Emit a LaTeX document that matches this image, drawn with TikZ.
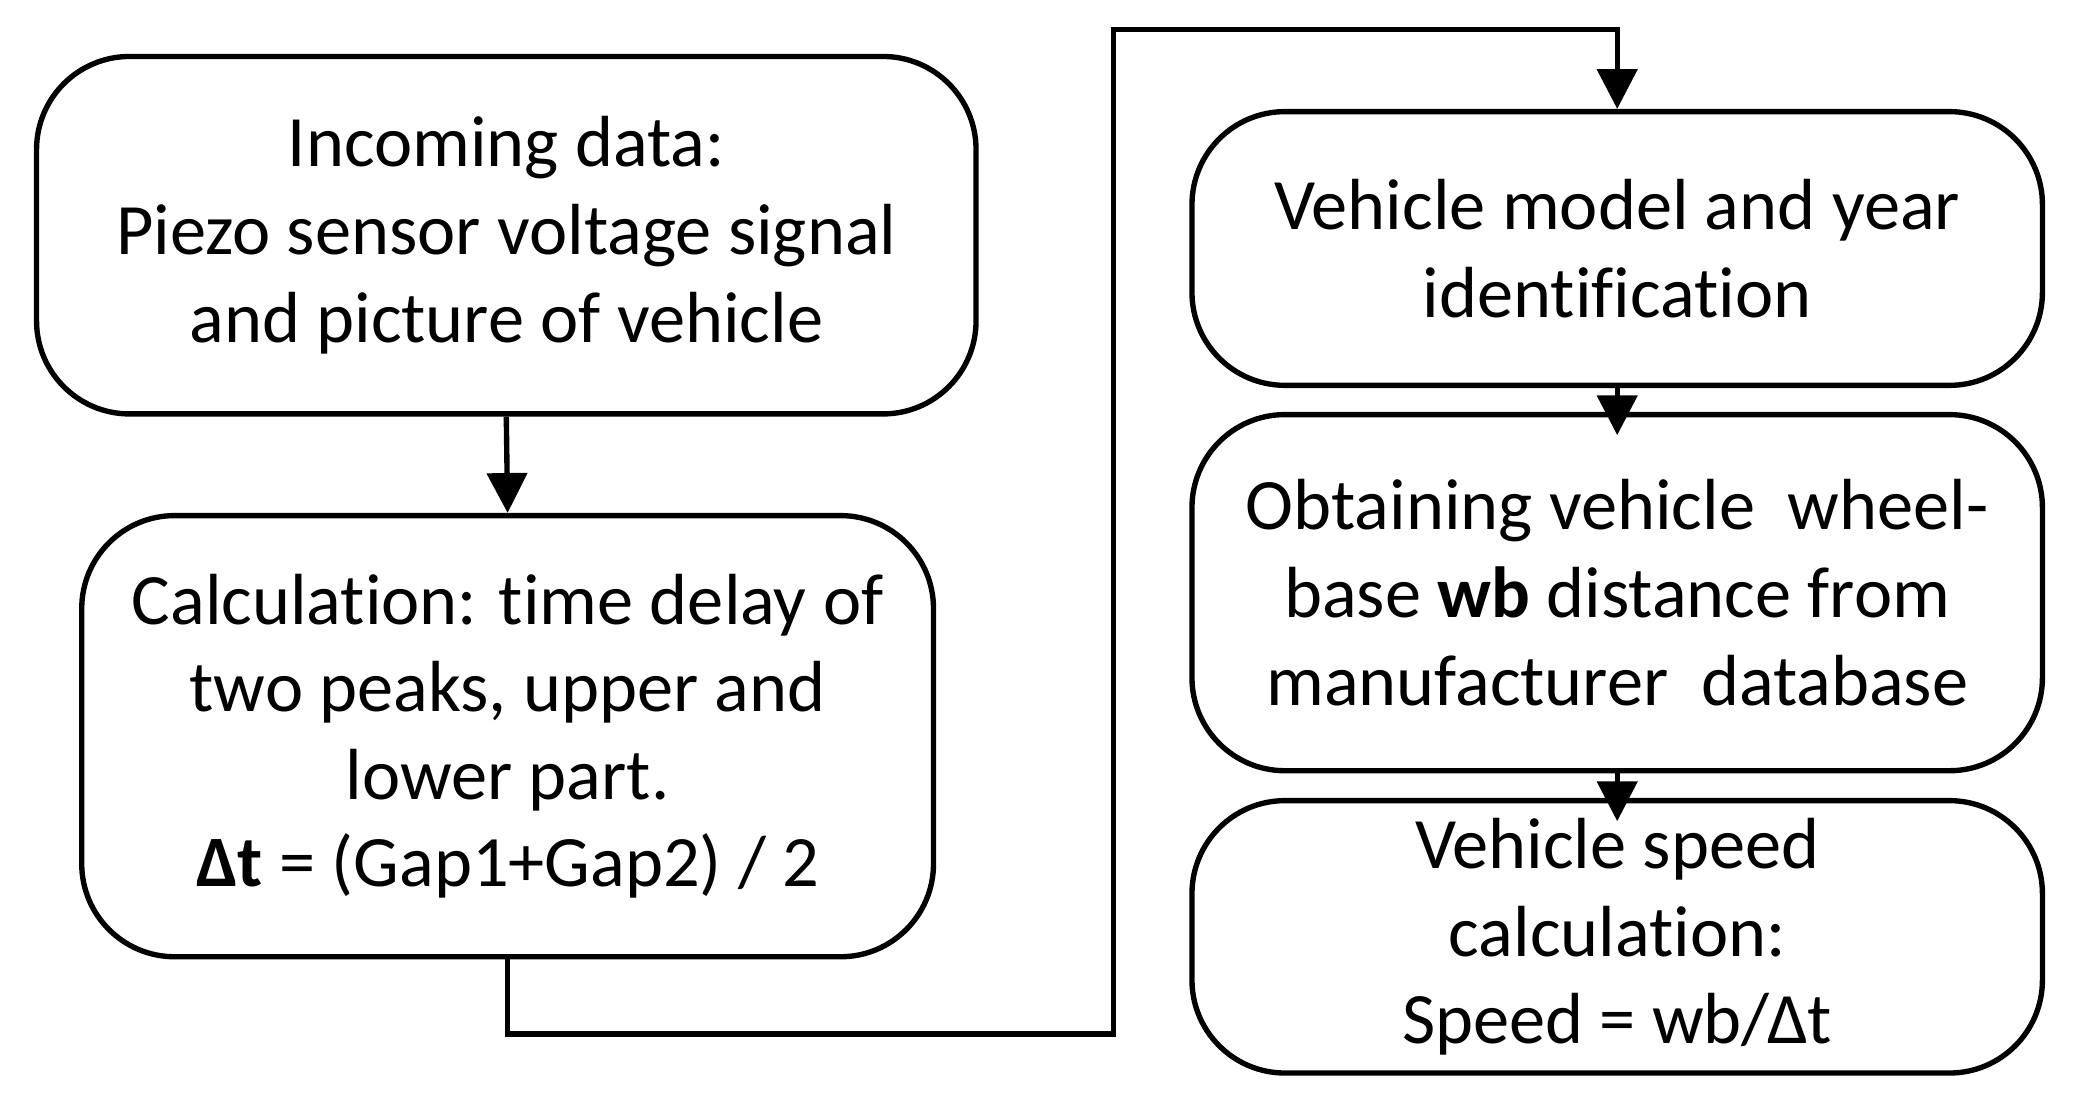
\documentclass[tikz,border=0pt]{standalone}
\usepackage{fontspec}
\setmainfont{Carlito}[Ligatures={NoCommon,NoRare,NoDiscretionary}]
\usetikzlibrary{arrows.meta}
\begin{document}
\begin{tikzpicture}[x=0.02cm,y=-0.02cm,
  box/.style={draw,line width=2.3pt,rounded corners=1.4cm,align=center,
    font=\fontsize{31}{37.5}\selectfont,inner sep=0pt},
  arr/.style={line width=2.3pt,-{Triangle[length=0.6cm,width=0.6cm]}}]
\useasboundingbox (0,0) rectangle (1560,837);
\node[box,minimum width=707*0.02cm,minimum height=269*0.02cm] (b1) at (381,177)
  {Incoming data:\\Piezo sensor voltage signal\\and picture of vehicle};
\node[box,minimum width=641*0.02cm,minimum height=332*0.02cm] (b2) at (382,554)
  {Calculation: time delay of\\two peaks, upper and\\lower part.\\\textbf{Δt} = (Gap1+Gap2) / 2};
\node[box,minimum width=640*0.02cm,minimum height=206*0.02cm] (b3) at (1217,187)
  {Vehicle model and year\\identification};
\node[box,minimum width=640*0.02cm,minimum height=268*0.02cm] (b4) at (1217,446)
  {Obtaining vehicle\ \ wheel-\\base \textbf{wb} distance from\\manufacturer\ \ database};
\node[box,minimum width=640*0.02cm,minimum height=205*0.02cm] (b5) at (1217,705)
  {Vehicle speed\\calculation:\\Speed = wb/Δt};
\coordinate (c1) at (382,778);
\coordinate (c2) at (838,778);
\coordinate (c3) at (838,22);
\coordinate (c4) at (1217,22);
\draw[arr] (b1.south) -- (b2.north);
\draw[arr] (b2.south) -- (c1) -- (c2) -- (c3) -- (c4) -- (b3.north);
\draw[arr,shorten >=-0.35cm] (b3.south) -- (b4.north);
\draw[arr,shorten >=-0.35cm] (b4.south) -- (b5.north);
\end{tikzpicture}
\end{document}
